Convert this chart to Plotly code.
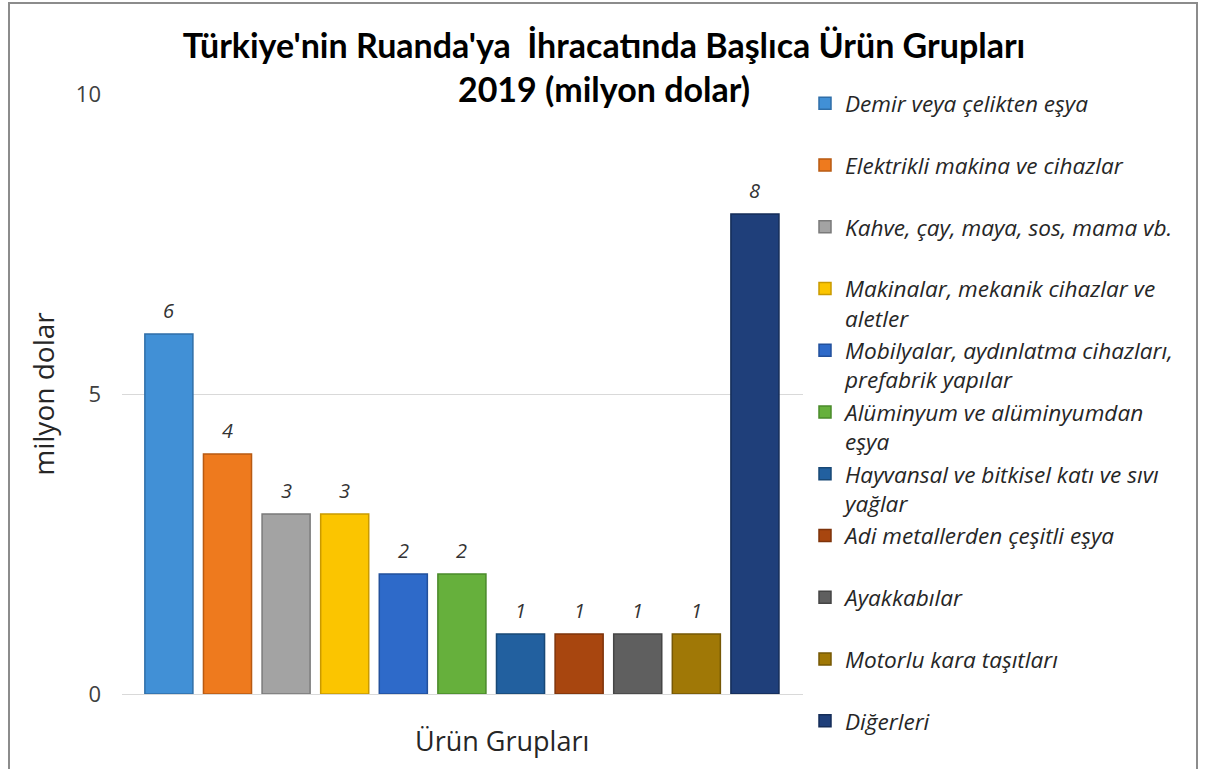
import plotly.graph_objects as go

categories = [
    "Demir veya çelikten eşya",
    "Elektrikli makina ve cihazlar",
    "Kahve, çay, maya, sos, mama vb.",
    "Makinalar, mekanik cihazlar ve aletler",
    "Mobilyalar, aydınlatma cihazları, prefabrik yapılar",
    "Alüminyum ve alüminyumdan eşya",
    "Hayvansal ve bitkisel katı ve sıvı yağlar",
    "Adi metallerden çeşitli eşya",
    "Ayakkabılar",
    "Motorlu kara taşıtları",
    "Diğerleri",
]
legend_labels = [
    "Demir veya çelikten eşya",
    "Elektrikli makina ve cihazlar",
    "Kahve, çay, maya, sos, mama vb.",
    "Makinalar, mekanik cihazlar ve<br>aletler",
    "Mobilyalar, aydınlatma cihazları,<br>prefabrik yapılar",
    "Alüminyum ve alüminyumdan<br>eşya",
    "Hayvansal ve bitkisel katı ve sıvı<br>yağlar",
    "Adi metallerden çeşitli eşya",
    "Ayakkabılar",
    "Motorlu kara taşıtları",
    "Diğerleri",
]
values = [6, 4, 3, 3, 2, 2, 1, 1, 1, 1, 8]
colors = ["#4190D6", "#EE7A1E", "#A3A3A3", "#FBC500", "#2E6AC9", "#66B03C",
          "#22609F", "#A8460F", "#5F5F5F", "#A07806", "#1F3F7A"]
edges = ["#2F6EA8", "#B85A12", "#7A7A7A", "#C99A00", "#22509C", "#4A8A2A",
         "#184876", "#7E330A", "#454545", "#765805", "#152D58"]

FONT = "Open Sans"
TFONT = "Lato"
fig = go.Figure()
n = len(categories)
for i, (cat, lab, v) in enumerate(zip(categories, legend_labels, values)):
    if "<br>" not in lab and i < n - 1:
        lab = lab + "<br>\u00a0"
    fig.add_trace(go.Bar(
        x=[cat], y=[v], name=lab, legendgroup=str(i),
        marker=dict(color=colors[i], line=dict(color=edges[i], width=1.5)),
        width=0.82,
    ))
    fig.add_annotation(x=cat, y=v, text=str(v), showarrow=False, yshift=24,
                       font=dict(family=FONT, size=20, color="#333333", style="italic"))

fig.add_annotation(xref="paper", yref="paper", x=(502 - 122) / 681, y=(694 - 740) / 600,
                   yanchor="middle", text="Ürün Grupları", showarrow=False,
                   font=dict(family=FONT, size=27, color="#262626"))

fig.add_shape(type="rect", xref="paper", yref="paper",
              x0=(9 - 122) / 681, x1=(1197 - 122) / 681,
              y0=(694 - 800) / 600, y1=(694 - 3) / 600,
              line=dict(color="#8C8C8C", width=2), fillcolor="rgba(0,0,0,0)", layer="below")

fig.update_layout(
    width=1207, height=769,
    margin=dict(l=122, r=404, t=94, b=75, autoexpand=False),
    paper_bgcolor="white", plot_bgcolor="white",
    title=dict(text="<b>Türkiye'nin Ruanda'ya  İhracatında Başlıca Ürün Grupları<br>2019 (milyon dolar)</b>",
               x=604 / 1207, xanchor="center", y=1 - 58 / 769, yanchor="top",
               font=dict(family=TFONT, size=34, color="#000000")),
    barmode="group",
    showlegend=True,
    legend=dict(x=(805 - 122) / 681, xanchor="left", y=(694 - 82) / 600, yanchor="top",
                font=dict(family=FONT, size=22.6, color="#262626", style="italic"),
                valign="top", tracegroupgap=0, traceorder="normal", maxheight=760,
                bgcolor="rgba(0,0,0,0)"),
    xaxis=dict(showticklabels=False, showgrid=False, zeroline=False, showline=False,
               range=[-0.80, 10.82], fixedrange=True),
    yaxis=dict(range=[0, 10], tickvals=[0, 5, 10], showgrid=True, gridcolor="#D9D9D9",
               gridwidth=1.2, zeroline=True, zerolinecolor="#D9D9D9", zerolinewidth=1.2,
               showline=False, ticks="", ticklabelstandoff=20,
               tickfont=dict(family=FONT, size=22, color="#404040"),
               title=dict(text="milyon dolar", standoff=13,
                          font=dict(family=FONT, size=28, color="#262626"))),
)

fig.write_html("out.html", config={"displayModeBar": False},
               post_script="document.body.style.margin='0';")
